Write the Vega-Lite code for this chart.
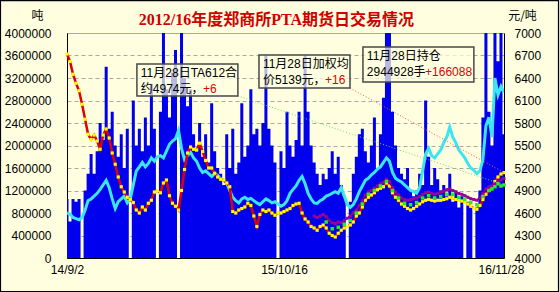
{
"$schema": "https://vega.github.io/schema/vega-lite/v6.json",
"width": 437, "height": 225,
"autosize": {"type": "none"},
"padding": {"left": 67, "top": 33, "right": 55, "bottom": 34},
"background": "#FFFFE0",
"config": {
  "view": {"stroke": "#A8A8A8"},
  "axis": {"labelFont": "Liberation Sans", "labelFontSize": 12, "labelColor": "#000000", "domainColor": "#000000", "titleFont": "Noto Sans CJK SC", "titleFontSize": 12, "titleFontWeight": "normal", "titleColor": "#000000", "ticks": false, "grid": false}
},
"datasets": {
"daily": [
{"t":0,"v":1050000,"oi":800000,"p":6720},
{"t":1,"v":650000,"oi":780000,"p":6620},
{"t":2,"v":1050000,"oi":720000,"p":6450},
{"t":3,"v":1000000,"oi":700000,"p":6330},
{"t":4,"v":1050000,"oi":680000,"p":6230},
{"t":5,"v":0,"oi":720000,"p":6050},
{"t":6,"v":1200000,"oi":850000,"p":5850},
{"t":7,"v":1500000,"oi":1020000,"p":5650},
{"t":8,"v":1850000,"oi":1050000,"p":5580},
{"t":9,"v":1500000,"oi":1100000,"p":5640},
{"t":10,"v":1900000,"oi":1150000,"p":5560},
{"t":11,"v":2400000,"oi":1220000,"p":5450},
{"t":12,"v":2100000,"oi":1300000,"p":5640},
{"t":13,"v":3400000,"oi":1380000,"p":5720},
{"t":14,"v":2300000,"oi":1250000,"p":5600},
{"t":15,"v":2600000,"oi":1050000,"p":5400},
{"t":16,"v":2000000,"oi":880000,"p":5250},
{"t":17,"v":1800000,"oi":1000000,"p":5080},
{"t":18,"v":2200000,"oi":1050000,"p":4950},
{"t":19,"v":1600000,"oi":1100000,"p":4880},
{"t":20,"v":2300000,"oi":980000,"p":4810},
{"t":21,"v":0,"oi":1050000,"p":4780},
{"t":22,"v":2800000,"oi":1300000,"p":4740},
{"t":23,"v":2000000,"oi":1550000,"p":4640},
{"t":24,"v":2300000,"oi":1620000,"p":4600},
{"t":25,"v":1900000,"oi":1700000,"p":4680},
{"t":26,"v":2500000,"oi":1620000,"p":4640},
{"t":27,"v":2000000,"oi":1680000,"p":4730},
{"t":28,"v":3100000,"oi":1780000,"p":4770},
{"t":29,"v":2300000,"oi":1720000,"p":4880},
{"t":30,"v":0,"oi":1800000,"p":4900},
{"t":31,"v":2600000,"oi":1820000,"p":4870},
{"t":32,"v":4000000,"oi":1780000,"p":5000},
{"t":33,"v":3000000,"oi":1900000,"p":5040},
{"t":34,"v":2500000,"oi":2020000,"p":4830},
{"t":35,"v":3300000,"oi":2080000,"p":4730},
{"t":36,"v":3700000,"oi":2120000,"p":4690},
{"t":37,"v":0,"oi":2270000,"p":4640},
{"t":38,"v":4000000,"oi":1950000,"p":4900},
{"t":39,"v":3200000,"oi":1750000,"p":5180},
{"t":40,"v":2700000,"oi":1820000,"p":5400},
{"t":41,"v":3000000,"oi":1880000,"p":5480},
{"t":42,"v":2200000,"oi":1780000,"p":5450},
{"t":43,"v":1900000,"oi":1720000,"p":5440},
{"t":44,"v":2400000,"oi":1600000,"p":5530},
{"t":45,"v":1800000,"oi":1520000,"p":5420},
{"t":46,"v":2200000,"oi":1550000,"p":5300},
{"t":47,"v":1700000,"oi":1500000,"p":5200},
{"t":48,"v":2750000,"oi":1450000,"p":5200},
{"t":49,"v":1900000,"oi":1500000,"p":5130},
{"t":50,"v":1600000,"oi":1470000,"p":5080},
{"t":51,"v":1500000,"oi":1400000,"p":5050},
{"t":52,"v":1300000,"oi":1380000,"p":5040},
{"t":53,"v":2200000,"oi":1330000,"p":5000},
{"t":54,"v":1600000,"oi":1200000,"p":4950},
{"t":55,"v":2300000,"oi":1080000,"p":4620},
{"t":56,"v":1500000,"oi":1020000,"p":4600},
{"t":57,"v":1700000,"oi":980000,"p":4640},
{"t":58,"v":2750000,"oi":1050000,"p":4660},
{"t":59,"v":1800000,"oi":1080000,"p":4680},
{"t":60,"v":2000000,"oi":1040000,"p":4730},
{"t":61,"v":3000000,"oi":1060000,"p":4700},
{"t":62,"v":2200000,"oi":1020000,"p":4560},
{"t":63,"v":2300000,"oi":980000,"p":4420},
{"t":64,"v":2000000,"oi":950000,"p":4580},
{"t":65,"v":2400000,"oi":1000000,"p":4640},
{"t":66,"v":3600000,"oi":1050000,"p":4620},
{"t":67,"v":2300000,"oi":1020000,"p":4640},
{"t":68,"v":2000000,"oi":980000,"p":4600},
{"t":69,"v":1700000,"oi":1000000,"p":4570},
{"t":70,"v":0,"oi":960000,"p":4600},
{"t":71,"v":1900000,"oi":920000,"p":4600},
{"t":72,"v":1600000,"oi":950000,"p":4620},
{"t":73,"v":2600000,"oi":1020000,"p":4640},
{"t":74,"v":2000000,"oi":1150000,"p":4660},
{"t":75,"v":1800000,"oi":1220000,"p":4700},
{"t":76,"v":2100000,"oi":1280000,"p":4720},
{"t":77,"v":2600000,"oi":1380000,"p":4730},
{"t":78,"v":2000000,"oi":1450000,"p":4600},
{"t":79,"v":3600000,"oi":1320000,"p":4520},
{"t":80,"v":2600000,"oi":1150000,"p":4480},
{"t":81,"v":2000000,"oi":1050000,"p":4420},
{"t":82,"v":1700000,"oi":980000,"p":4400,"p2":4560},
{"t":83,"v":1500000,"oi":970000,"p":4370,"p2":4540},
{"t":84,"v":1300000,"oi":1020000,"p":4420,"p2":4560},
{"t":85,"v":1500000,"oi":1050000,"p":4440,"p2":4580},
{"t":86,"v":1400000,"oi":1100000,"p":4400,"p2":4550,"p3":4480},
{"t":87,"v":1600000,"oi":1120000,"p":4330,"p2":4500},
{"t":88,"v":1900000,"oi":1150000,"p":4300,"p2":4470,"p3":4390},
{"t":89,"v":1500000,"oi":1180000,"p":4280,"p2":4460},
{"t":90,"v":1800000,"oi":1150000,"p":4330,"p2":4480,"p3":4410},
{"t":91,"v":1300000,"oi":1250000,"p":4370,"p2":4470},
{"t":92,"v":1100000,"oi":1100000,"p":4400,"p2":4500,"p3":4450},
{"t":93,"v":0,"oi":950000,"p":4420,"p2":4530},
{"t":94,"v":1000000,"oi":900000,"p":4440,"p2":4560,"p3":4500},
{"t":95,"v":1500000,"oi":950000,"p":4480,"p2":4600},
{"t":96,"v":1800000,"oi":1050000,"p":4560,"p2":4640,"p3":4600},
{"t":97,"v":2200000,"oi":1180000,"p":4600,"p2":4700},
{"t":98,"v":2300000,"oi":1280000,"p":4680,"p2":4760,"p3":4720},
{"t":99,"v":1900000,"oi":1380000,"p":4770,"p2":4840},
{"t":100,"v":1700000,"oi":1420000,"p":4810,"p2":4880,"p3":4850},
{"t":101,"v":2000000,"oi":1480000,"p":4840,"p2":4900},
{"t":102,"v":2500000,"oi":1520000,"p":4870,"p2":4930,"p3":4900},
{"t":103,"v":1600000,"oi":1580000,"p":4910,"p2":4960},
{"t":104,"v":2200000,"oi":1620000,"p":4930,"p2":4990,"p3":4960},
{"t":105,"v":2850000,"oi":1700000,"p":4950,"p2":5010},
{"t":106,"v":4000000,"oi":1780000,"p":5000,"p2":5050,"p3":5020},
{"t":107,"v":4000000,"oi":1720000,"p":4960,"p2":5020},
{"t":108,"v":2600000,"oi":1520000,"p":4870,"p2":4940,"p3":4900},
{"t":109,"v":2000000,"oi":1420000,"p":4810,"p2":4880},
{"t":110,"v":1600000,"oi":1380000,"p":4770,"p2":4840,"p3":4800},
{"t":111,"v":1500000,"oi":1350000,"p":4720,"p2":4800},
{"t":112,"v":1400000,"oi":1300000,"p":4690,"p2":4780,"p3":4730},
{"t":113,"v":1600000,"oi":1250000,"p":4660,"p2":4770},
{"t":114,"v":1200000,"oi":1200000,"p":4640,"p2":4780,"p3":4710},
{"t":115,"v":1100000,"oi":1180000,"p":4660,"p2":4790},
{"t":116,"v":1200000,"oi":1150000,"p":4690,"p2":4800,"p3":4740},
{"t":117,"v":1500000,"oi":1250000,"p":4720,"p2":4820},
{"t":118,"v":1300000,"oi":1550000,"p":4750,"p2":4850,"p3":4800},
{"t":119,"v":2800000,"oi":1850000,"p":4770,"p2":4870},
{"t":120,"v":1800000,"oi":1950000,"p":4780,"p2":4880,"p3":4830},
{"t":121,"v":1300000,"oi":1820000,"p":4770,"p2":4860},
{"t":122,"v":1600000,"oi":1780000,"p":4760,"p2":4850,"p3":4800},
{"t":123,"v":1400000,"oi":1850000,"p":4770,"p2":4860},
{"t":124,"v":1200000,"oi":1920000,"p":4770,"p2":4880,"p3":4820},
{"t":125,"v":1300000,"oi":2050000,"p":4780,"p2":4890},
{"t":126,"v":1100000,"oi":2150000,"p":4790,"p2":4910,"p3":4850},
{"t":127,"v":1500000,"oi":2330000,"p":4810,"p2":4920},
{"t":128,"v":1000000,"oi":2150000,"p":4800,"p2":4900,"p3":4850},
{"t":129,"v":1200000,"oi":2050000,"p":4780,"p2":4880},
{"t":130,"v":900000,"oi":1920000,"p":4770,"p2":4860,"p3":4810},
{"t":131,"v":1100000,"oi":1850000,"p":4760,"p2":4850},
{"t":132,"v":0,"oi":1780000,"p":4740,"p2":4830,"p3":4780},
{"t":133,"v":1000000,"oi":1680000,"p":4720,"p2":4810},
{"t":134,"v":900000,"oi":1600000,"p":4690,"p2":4790,"p3":4740},
{"t":135,"v":0,"oi":1560000,"p":4660,"p2":4780},
{"t":136,"v":900000,"oi":1500000,"p":4650,"p2":4770,"p3":4710},
{"t":137,"v":1200000,"oi":1550000,"p":4700,"p2":4800},
{"t":138,"v":2500000,"oi":1750000,"p":4780,"p2":4860,"p3":4820},
{"t":139,"v":4000000,"oi":2350000,"p":4850,"p2":4920},
{"t":140,"v":2600000,"oi":2500000,"p":4900,"p2":4950,"p3":4900},
{"t":141,"v":2000000,"oi":2150000,"p":4950,"p2":4960,"p3":4920},
{"t":142,"v":4000000,"oi":3200000,"p":5020,"p2":4990,"p3":4950},
{"t":143,"v":3500000,"oi":2900000,"p":5080,"p2":5020,"p3":4990},
{"t":144,"v":4000000,"oi":3050000,"p":5120,"p2":5040,"p3":4960},
{"t":145,"v":2200000,"oi":2944928,"p":5139,"p2":5060,"p3":4974}
],
"boxes": [
{"t":23.2,"t2":56.7,"p":6160,"pTop":6587},
{"t":63.7,"t2":93.9,"p":6267,"pTop":6707},
{"t":98.2,"t2":135.0,"p":6347,"pTop":6813}
],
"frame": [{"t":-22.07,"t2":163.08,"p":3553,"pTop":7433}],
"redLink": [{"t":93.9,"p":6267,"t2":145,"pEnd":5139}],
"greenLink": [{"t":56.7,"p":6160,"t2":145,"pEnd":4974}],
"notesBlack": [
{"t":24.5,"p":6467,"label":"11月28日TA612合"},
{"t":24.5,"p":6253,"label":"约4974元，"},
{"t":65.0,"p":6587,"label":"11月28日加权均"},
{"t":65.0,"p":6373,"label":"价5139元，"},
{"t":99.5,"p":6693,"label":"11月28日持仓"},
{"t":99.5,"p":6480,"label":"2944928手"}
],
"notesRed": [
{"t":45.1,"p":6253,"label":"+6"},
{"t":85.6,"p":6373,"label":"+16"},
{"t":118.8,"p":6480,"label":"+166088"}
],
"heading": [{"t":69.5,"p":7180,"label":"2012/16年度郑商所PTA期货日交易情况"}]
},
"encoding": {
  "x": {"field": "t", "type": "quantitative", "scale": {"domain": [0, 145], "nice": false, "zero": false},
        "axis": {"values": [0, 72, 144], "labelExpr": "datum.value == 0 ? '14/9/2' : (datum.value == 72 ? '15/10/16' : '16/11/28')", "labelFlush": false, "labelPadding": 6, "title": null}}
},
"layer": [
{
  "data": {"name": "daily"},
  "encoding": {
    "y": {"field": "v", "type": "quantitative", "scale": {"domain": [0, 4000000], "nice": false},
          "axis": {"title": "吨", "titleAngle": 0, "titleX": -30, "titleY": -18, "titleAlign": "center", "titleBaseline": "middle",
                   "values": [0,400000,800000,1200000,1600000,2000000,2400000,2800000,3200000,3600000,4000000], "format": "d",
                   "labelPadding": 16, "grid": true, "gridColor": "#A8A8A8", "gridDash": [4, 3]}}
  },
  "layer": [
    {"mark": {"type": "area", "interpolate": "step", "color": "#0000EE", "clip": true}},
    {"mark": {"type": "line", "color": "#3CE6F0", "strokeWidth": 3, "clip": true},
     "encoding": {"y": {"field": "oi", "type": "quantitative"}}}
  ]
},
{
  "encoding": {
    "y": {"field": "p", "type": "quantitative", "scale": {"domain": [4000, 7000], "nice": false, "zero": false},
          "axis": {"orient": "right", "title": "元/吨", "titleAngle": 0, "titleX": 18, "titleY": -18, "titleAlign": "center", "titleBaseline": "middle",
                   "values": [4000,4300,4600,4900,5200,5500,5800,6100,6400,6700,7000], "format": "d", "labelPadding": 10}}
  },
  "layer": [
    {"data": {"name": "daily"},
     "mark": {"type": "line", "color": "#E00000", "strokeWidth": 2.5}},
    {"data": {"name": "daily"},
     "mark": {"type": "point", "shape": "square", "filled": true, "color": "#FFFF00", "size": 10, "opacity": 1}},
    {"data": {"name": "daily"},
     "mark": {"type": "line", "color": "#800080", "strokeWidth": 2},
     "encoding": {"y": {"field": "p2", "type": "quantitative"}}},
    {"data": {"name": "daily"},
     "mark": {"type": "point", "shape": "square", "filled": true, "color": "#9A009A", "size": 9, "opacity": 1},
     "encoding": {"y": {"field": "p2", "type": "quantitative"}}},
    {"data": {"name": "daily"},
     "mark": {"type": "point", "shape": "square", "filled": true, "color": "#22EE22", "size": 12, "opacity": 1},
     "encoding": {"y": {"field": "p3", "type": "quantitative"}}},
    {"data": {"name": "redLink"},
     "mark": {"type": "rule", "color": "#FF5050", "strokeWidth": 1, "strokeDash": [1, 2]},
     "encoding": {"x2": {"field": "t2"}, "y2": {"field": "pEnd"}}},
    {"data": {"name": "greenLink"},
     "mark": {"type": "rule", "color": "#66DD66", "strokeWidth": 1, "strokeDash": [1, 2]},
     "encoding": {"x2": {"field": "t2"}, "y2": {"field": "pEnd"}}},
    {"data": {"name": "boxes"},
     "mark": {"type": "rect", "fill": "#FFFFE0", "fillOpacity": 0.72, "stroke": "#484848", "strokeWidth": 1.5},
     "encoding": {"x2": {"field": "t2"}, "y2": {"field": "pTop"}}},
    {"data": {"name": "frame"},
     "mark": {"type": "rect", "fill": null, "fillOpacity": 0, "stroke": "#000000", "strokeWidth": 1.2, "clip": false},
     "encoding": {"x2": {"field": "t2"}, "y2": {"field": "pTop"}}},
    {"data": {"name": "notesBlack"},
     "mark": {"type": "text", "align": "left", "baseline": "middle", "font": "Liberation Sans, Noto Sans CJK SC", "fontSize": 12, "color": "#000000"},
     "encoding": {"text": {"field": "label"}}},
    {"data": {"name": "notesRed"},
     "mark": {"type": "text", "align": "left", "baseline": "middle", "font": "Liberation Sans, Noto Sans CJK SC", "fontSize": 12, "color": "#E00000"},
     "encoding": {"text": {"field": "label"}}},
    {"data": {"name": "heading"},
     "mark": {"type": "text", "align": "center", "baseline": "middle", "font": "Liberation Serif, Noto Sans CJK SC", "fontSize": 16, "fontWeight": "bold", "color": "#D00000", "clip": false},
     "encoding": {"text": {"field": "label"}}}
  ]
}
],
"resolve": {"scale": {"y": "independent"}}
}
